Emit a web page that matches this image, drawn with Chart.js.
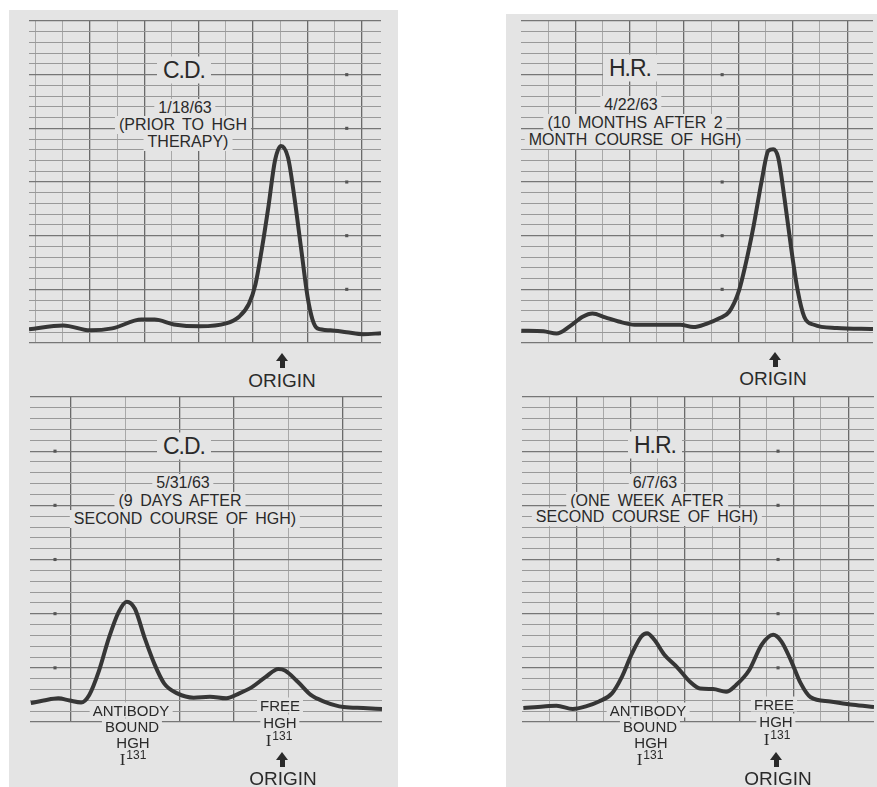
<!DOCTYPE html>
<html>
<head>
<meta charset="utf-8">
<script src="https://cdn.jsdelivr.net/npm/chart.js@4/dist/chart.umd.min.js"></script>
<style>
  html,body{margin:0;padding:0;}
  body{width:877px;height:787px;background:#ffffff;position:relative;overflow:hidden;
       font-family:"Liberation Sans","DejaVu Sans",Arial,sans-serif;}
  .paper{position:absolute;background:#e4e4e4;}
  canvas.panel{position:absolute;}
  .lbl{position:absolute;transform:translate(-50%,-50%);color:#2a2a2a;text-align:center;
       white-space:nowrap;line-height:1;background:#e4e4e4;padding:1px 4px;font-size:16px;word-spacing:3px;}
  .big{font-size:23px;letter-spacing:-1px;padding:2px 6px;}
  .org{font-size:19px;background:transparent;}
  .sm{font-size:15px;padding:0 3px;}
  .iso{font-family:"Liberation Serif","DejaVu Serif",serif;font-size:17px;}
  .iso sup{font-family:"Liberation Sans",sans-serif;font-size:12px;vertical-align:6px;margin-left:1px;}
  .arrow{position:absolute;width:0;height:0;}
  .arrow .head{position:absolute;left:-6px;top:0;width:0;height:0;border-left:6px solid transparent;border-right:6px solid transparent;border-bottom:8px solid #2a2a2a;}
  .arrow .stem{position:absolute;left:-2px;top:7px;width:5px;height:8px;background:#2a2a2a;}
</style>
</head>
<body>
<div class="paper" style="left:9px;top:10px;width:389px;height:777px;"></div>
<div class="paper" style="left:506px;top:14px;width:371px;height:773px;"></div>

<canvas id="tl" class="panel" width="360" height="330" style="left:25px;top:17px;"></canvas>
<canvas id="tr" class="panel" width="360" height="330" style="left:517px;top:17px;"></canvas>
<canvas id="bl" class="panel" width="360" height="333" style="left:26px;top:393px;"></canvas>
<canvas id="br" class="panel" width="360" height="333" style="left:518px;top:393px;"></canvas>

<!-- top-left labels -->
<div class="lbl big" style="left:184px;top:70px;">C.D.</div>
<div class="lbl" style="left:185px;top:108px;">1/18/63</div>
<div class="lbl" style="left:183px;top:125px;">(PRIOR TO HGH</div>
<div class="lbl" style="left:188px;top:142px;">THERAPY)</div>
<div class="arrow" style="left:282px;top:353px;"><div class="head"></div><div class="stem"></div></div>
<div class="lbl org" style="left:282px;top:380px;">ORIGIN</div>

<!-- top-right labels -->
<div class="lbl big" style="left:630px;top:68px;">H.R.</div>
<div class="lbl" style="left:631px;top:105px;">4/22/63</div>
<div class="lbl" style="left:635px;top:123px;">(10 MONTHS AFTER 2</div>
<div class="lbl" style="left:635px;top:140px;">MONTH COURSE OF HGH)</div>
<div class="arrow" style="left:775px;top:352px;"><div class="head"></div><div class="stem"></div></div>
<div class="lbl org" style="left:773px;top:378px;">ORIGIN</div>

<!-- bottom-left labels -->
<div class="lbl big" style="left:184px;top:446px;">C.D.</div>
<div class="lbl" style="left:183px;top:483px;">5/31/63</div>
<div class="lbl" style="left:180px;top:501px;">(9 DAYS AFTER</div>
<div class="lbl" style="left:185px;top:519px;">SECOND COURSE OF HGH)</div>
<div class="lbl sm" style="left:131px;top:710px;">ANTIBODY</div>
<div class="lbl sm" style="left:132px;top:726px;">BOUND</div>
<div class="lbl sm" style="left:133px;top:742px;background:transparent;">HGH</div>
<div class="lbl iso" style="left:133px;top:758px;background:transparent;">I<sup>131</sup></div>
<div class="lbl sm" style="left:280px;top:705px;">FREE</div>
<div class="lbl sm" style="left:280px;top:722px;">HGH</div>
<div class="lbl iso" style="left:279px;top:739px;background:transparent;">I<sup>131</sup></div>
<div class="arrow" style="left:282px;top:752px;"><div class="head"></div><div class="stem"></div></div>
<div class="lbl org" style="left:283px;top:778px;">ORIGIN</div>

<!-- bottom-right labels -->
<div class="lbl big" style="left:655px;top:445px;">H.R.</div>
<div class="lbl" style="left:655px;top:483px;">6/7/63</div>
<div class="lbl" style="left:647px;top:501px;">(ONE WEEK AFTER</div>
<div class="lbl" style="left:647px;top:517px;">SECOND COURSE OF HGH)</div>
<div class="lbl sm" style="left:648px;top:710px;">ANTIBODY</div>
<div class="lbl sm" style="left:650px;top:726px;">BOUND</div>
<div class="lbl sm" style="left:651px;top:742px;background:transparent;">HGH</div>
<div class="lbl iso" style="left:650px;top:758px;background:transparent;">I<sup>131</sup></div>
<div class="lbl sm" style="left:774px;top:704px;">FREE</div>
<div class="lbl sm" style="left:776px;top:721px;">HGH</div>
<div class="lbl iso" style="left:777px;top:738px;background:transparent;">I<sup>131</sup></div>
<div class="arrow" style="left:776px;top:752px;"><div class="head"></div><div class="stem"></div></div>
<div class="lbl org" style="left:778px;top:778px;">ORIGIN</div>

<script>
// ---------- data (x in chart-paper divisions, y in chart-paper divisions) ----------
// Top-left: C.D. 1/18/63
const tlX = [0, 1.26, 2.24, 3.06, 4.14, 4.62, 5.33, 6.29, 7.25, 7.73, 8.09, 8.33, 8.57, 8.81, 9.05, 9.27, 9.53, 9.77, 10.01, 10.25, 10.43, 10.61, 11.09, 11.69, 12.29, 12.95];
const tlY = [1.27, 1.64, 1.18, 1.36, 2.18, 2.18, 1.73, 1.55, 1.82, 2.45, 3.64, 5.45, 8.82, 12.73, 17.0, 18.36, 17.27, 13.45, 8.82, 4.27, 2.18, 1.36, 1.18, 1.0, 0.82, 0.91];
// Top-right: H.R. 4/22/63
const trX = [0.01, 0.83, 1.31, 1.79, 2.27, 2.63, 3.10, 3.59, 4.18, 5.03, 5.86, 6.34, 6.82, 7.30, 7.66, 8.02, 8.26, 8.56, 8.86, 9.10, 9.28, 9.46, 9.70, 9.94, 10.18, 10.42, 10.78, 11.62, 12.95];
const trY = [1.15, 1.09, 0.88, 1.55, 2.45, 2.75, 2.39, 2.0, 1.70, 1.70, 1.70, 1.48, 1.79, 2.30, 2.91, 4.88, 7.30, 10.94, 15.18, 17.91, 18.06, 17.30, 13.36, 8.82, 4.88, 2.45, 1.70, 1.39, 1.30];
// Bottom-left: C.D. 5/31/63
const blX = [0.03, 0.50, 1.04, 1.46, 1.88, 2.18, 2.54, 2.90, 3.26, 3.56, 3.86, 4.22, 4.58, 4.94, 5.42, 6.02, 6.62, 7.22, 7.70, 8.18, 8.66, 9.14, 9.38, 9.86, 10.33, 10.82, 11.54, 12.26, 12.95];
const blY = [1.74, 1.98, 2.19, 1.98, 1.80, 2.50, 4.75, 7.75, 10.15, 11.11, 10.45, 7.75, 5.34, 3.54, 2.64, 2.25, 2.34, 2.19, 2.64, 3.24, 4.14, 4.89, 4.75, 3.69, 2.50, 1.89, 1.38, 1.29, 1.20];
// Bottom-right: H.R. 6/7/63
const brX = [0.05, 0.79, 1.27, 1.87, 2.35, 2.83, 3.31, 3.67, 4.03, 4.39, 4.60, 4.87, 5.23, 5.71, 6.19, 6.55, 7.03, 7.51, 7.87, 8.35, 8.82, 9.24, 9.54, 9.90, 10.26, 10.62, 11.34, 12.18, 12.95];
const brY = [1.29, 1.44, 1.50, 1.20, 1.44, 1.89, 2.64, 4.14, 6.24, 7.90, 8.20, 7.59, 6.24, 5.05, 3.69, 3.09, 3.04, 2.79, 3.40, 4.75, 7.14, 8.05, 7.45, 5.65, 3.54, 2.28, 1.89, 1.59, 1.38];

// chart-paper ruling (vertical lines) and the small scale marks printed on the paper
const tlMajor = [2.24, 4.24, 6.24, 8.24, 10.24, 12.24];
const tlMinor = [0.24, 1.24, 3.24, 5.24, 7.24, 9.24, 11.24];
const trMajor = [2, 4, 6, 8, 10, 12];
const trMinor = [1, 3, 5, 7, 9, 11];
const blMajor = [1.5, 5.5, 7.5, 11.5];
const blMinor = [3.5, 9.5];
const brMajor = [2, 4, 6, 8, 10, 12];
const brMinor = [1, 3, 5, 7, 9, 11];
const markLevels = [5, 10, 15, 20, 25];
const tlMarkX = 11.69, trMarkX = 7.40, blMarkX = 0.92, brMarkX = 9.42;
const X_MAX = 12.95, Y_MAX = 30;

function makePanel(id, xs, ys, major, minor, markX) {
  const lines = major.concat(minor).sort((a, b) => a - b);
  new Chart(document.getElementById(id), {
    type: 'line',
    data: {
      datasets: [
        {
          data: xs.map((x, i) => ({ x: x, y: ys[i] })),
          borderColor: '#363636',
          borderWidth: 4,
          pointRadius: 0,
          cubicInterpolationMode: 'monotone',
          fill: false
        },
        {
          type: 'scatter',
          data: markLevels.map(v => ({ x: markX, y: v })),
          pointRadius: 2.2,
          pointStyle: 'rect',
          backgroundColor: '#555',
          borderWidth: 0
        }
      ]
    },
    options: {
      responsive: false,
      animation: false,
      events: [],
      layout: { padding: 0 },
      plugins: { legend: { display: false }, tooltip: { enabled: false }, title: { display: false } },
      scales: {
        x: {
          type: 'linear', min: 0, max: X_MAX,
          ticks: { display: false },
          border: { display: false },
          grid: {
            drawTicks: false,
            color: c => major.includes(c.tick.value) ? '#6a6a6a' : '#a8a8a8',
            lineWidth: c => major.includes(c.tick.value) ? 1.3 : 1
          },
          afterBuildTicks: s => { s.ticks = lines.map(v => ({ value: v })); }
        },
        y: {
          type: 'linear', min: 0, max: Y_MAX,
          ticks: { display: false, stepSize: 1 },
          border: { display: false },
          grid: {
            drawTicks: false,
            color: c => (c.tick.value % 5 === 0) ? '#767676' : '#999999',
            lineWidth: c => (c.tick.value % 5 === 0) ? 1.3 : 1
          }
        }
      }
    }
  });
}

makePanel('tl', tlX, tlY, tlMajor, tlMinor, tlMarkX);
makePanel('tr', trX, trY, trMajor, trMinor, trMarkX);
makePanel('bl', blX, blY, blMajor, blMinor, blMarkX);
makePanel('br', brX, brY, brMajor, brMinor, brMarkX);
</script>
</body>
</html>
